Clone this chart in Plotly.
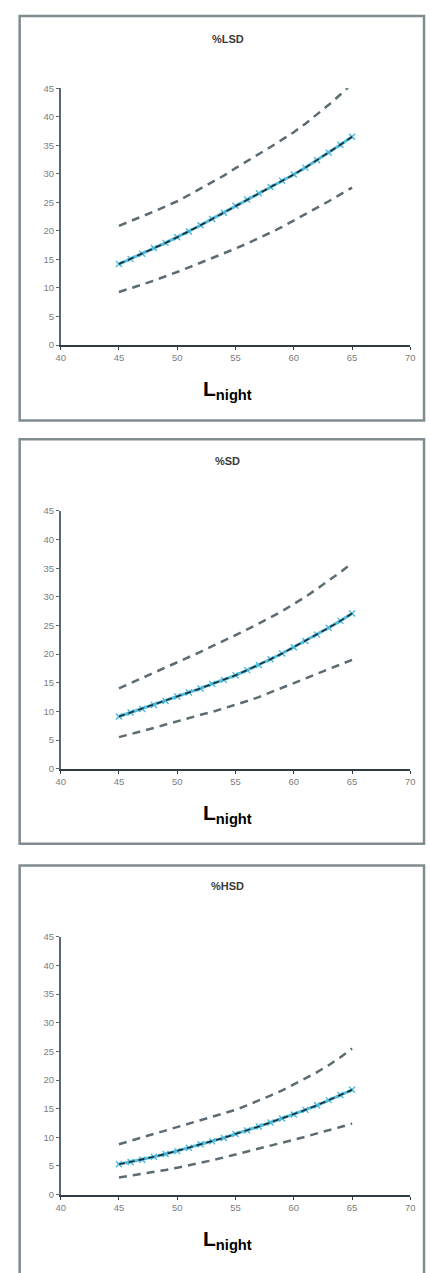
import plotly.graph_objects as go

# ---- data ----
lnight = [45, 46, 47, 48, 49, 50, 51, 52, 53, 54, 55, 56, 57, 58, 59, 60, 61, 62, 63, 64, 65]

lsd_mid = [14.2, 15.1, 16.0, 17.0, 17.9, 18.9, 19.9, 21.0, 22.1, 23.2, 24.4, 25.5, 26.6, 27.7, 28.8, 29.9, 31.1, 32.4, 33.7, 35.1, 36.5]
lsd_up = [20.9, 21.7, 22.5, 23.4, 24.3, 25.2, 26.3, 27.4, 28.5, 29.7, 31.0, 32.2, 33.5, 34.7, 36.0, 37.3, 38.8, 40.4, 42.1, 43.9, 45.8]
lsd_lo = [9.3, 9.9, 10.6, 11.3, 12.0, 12.8, 13.6, 14.4, 15.2, 16.0, 16.9, 17.8, 18.7, 19.7, 20.7, 21.8, 22.9, 24.0, 25.2, 26.4, 27.6]

sd_mid = [9.1, 9.8, 10.4, 11.1, 11.8, 12.6, 13.3, 14.0, 14.8, 15.5, 16.3, 17.2, 18.1, 19.1, 20.1, 21.2, 22.3, 23.4, 24.6, 25.8, 27.1]
sd_up = [14.0, 14.9, 15.8, 16.7, 17.6, 18.6, 19.5, 20.4, 21.4, 22.3, 23.3, 24.3, 25.3, 26.4, 27.5, 28.7, 30.0, 31.4, 32.8, 34.3, 35.9]
sd_lo = [5.5, 6.0, 6.6, 7.1, 7.7, 8.3, 8.8, 9.4, 9.9, 10.5, 11.1, 11.8, 12.5, 13.3, 14.1, 14.9, 15.7, 16.5, 17.3, 18.1, 19.0]

hsd_mid = [5.3, 5.7, 6.1, 6.6, 7.1, 7.6, 8.2, 8.8, 9.3, 9.9, 10.6, 11.2, 11.9, 12.6, 13.3, 14.0, 14.8, 15.6, 16.5, 17.4, 18.3]
hsd_up = [8.8, 9.4, 10.0, 10.6, 11.3, 11.9, 12.5, 13.0, 13.6, 14.2, 14.8, 15.6, 16.4, 17.3, 18.2, 19.2, 20.3, 21.4, 22.6, 24.0, 25.5]
hsd_lo = [3.0, 3.3, 3.6, 4.0, 4.3, 4.7, 5.1, 5.5, 6.0, 6.5, 7.0, 7.5, 8.0, 8.5, 9.0, 9.6, 10.1, 10.7, 11.2, 11.8, 12.4]

titles = ["%LSD", "%SD", "%HSD"]
x_ticks = [40, 45, 50, 55, 60, 65, 70]
y_ticks = [0, 5, 10, 15, 20, 25, 30, 35, 40, 45]

panels = [(lsd_mid, lsd_up, lsd_lo), (sd_mid, sd_up, sd_lo), (hsd_mid, hsd_up, hsd_lo)]

W, H = 430, 1273
def py(pix):
    return 1 - pix / H

# pixel layout of each panel: (y of 45, y of 0, title y, label y, frame top, frame bottom)
geom = [
    (83, 342, 33, 387, 10, 418),
    (509.3, 769.3, 459, 815, 437, 845),
    (939, 1199, 888, 1245, 867, 1290),
]
x_dom = [57 / W, 415 / W]

fig = go.Figure()
shapes = []
annotations = []
tick_font = dict(family="Arial", size=9.5, color="#7d7d7d")
for i, ((mid, up, lo), g) in enumerate(zip(panels, geom)):
    n = "" if i == 0 else str(i + 1)
    xa = "x" + n
    ya = "y" + n
    dash_style = dict(color="#5d6b72", width=2.5, dash="8px,6px")
    fig.add_trace(go.Scatter(x=lnight, y=up, mode="lines", line=dash_style,
                             xaxis=xa, yaxis=ya, showlegend=False))
    fig.add_trace(go.Scatter(x=lnight, y=lo, mode="lines", line=dash_style,
                             xaxis=xa, yaxis=ya, showlegend=False))
    fig.add_trace(go.Scatter(x=lnight, y=mid, mode="lines+markers",
                             line=dict(color="#52bcdc", width=3),
                             marker=dict(symbol="x-thin", size=6,
                                         line=dict(color="#45b6da", width=1.3)),
                             xaxis=xa, yaxis=ya, showlegend=False))
    fig.add_trace(go.Scatter(x=lnight, y=mid, mode="lines",
                             line=dict(color="#1d2a30", width=1.6, dash="6px,4px"),
                             xaxis=xa, yaxis=ya, showlegend=False))

    fig.update_layout(**{
        "xaxis" + n: dict(domain=x_dom, range=[40, 70], tickvals=x_ticks,
                          anchor=ya, showgrid=False, zeroline=False,
                          showline=True, linecolor="#2f3c44", linewidth=2,
                          ticks="outside", ticklen=3, tickcolor="#2f3c44",
                          tickfont=tick_font, fixedrange=True),
        "yaxis" + n: dict(domain=[py(g[1]), py(g[0])], range=[0, 45], tickvals=y_ticks,
                          anchor=xa, showgrid=False, zeroline=False,
                          showline=True, linecolor="#5a6a74", linewidth=1.5,
                          ticks="outside", ticklen=3, tickcolor="#5a6a74",
                          tickfont=tick_font, fixedrange=True),
    })
    annotations.append(dict(text="<b>" + titles[i] + "</b>", x=228 / W, y=py(g[2]),
                            xref="paper", yref="paper", showarrow=False,
                            xanchor="center", yanchor="middle",
                            font=dict(family="Arial", size=11, color="#3a3a3a")))
    annotations.append(dict(text="<b>L<sub>night</sub></b>", x=228 / W, y=py(g[3]),
                            xref="paper", yref="paper", showarrow=False,
                            xanchor="center", yanchor="middle",
                            font=dict(family="Liberation Sans, Arial", size=21, color="#000")))
    shapes.append(dict(type="rect", xref="paper", yref="paper",
                       x0=15 / W, x1=429 / W, y0=py(g[5]), y1=py(g[4]),
                       line=dict(color="#808c90", width=2.5), fillcolor="rgba(0,0,0,0)",
                       layer="below"))

fig.update_layout(width=W, height=H, margin=dict(l=0, r=0, t=0, b=0),
                  paper_bgcolor="white", plot_bgcolor="white",
                  shapes=shapes, annotations=annotations, showlegend=False)

fig.write_html("out.html", config={"displayModeBar": False})

# remove default page margins so the figure fills the window without scrollbars
with open("out.html", "r", encoding="utf-8") as f:
    html = f.read()
html = html.replace("<head>", "<head><style>html,body{margin:0;padding:0;overflow:hidden;}</style>", 1)
with open("out.html", "w", encoding="utf-8") as f:
    f.write(html)
